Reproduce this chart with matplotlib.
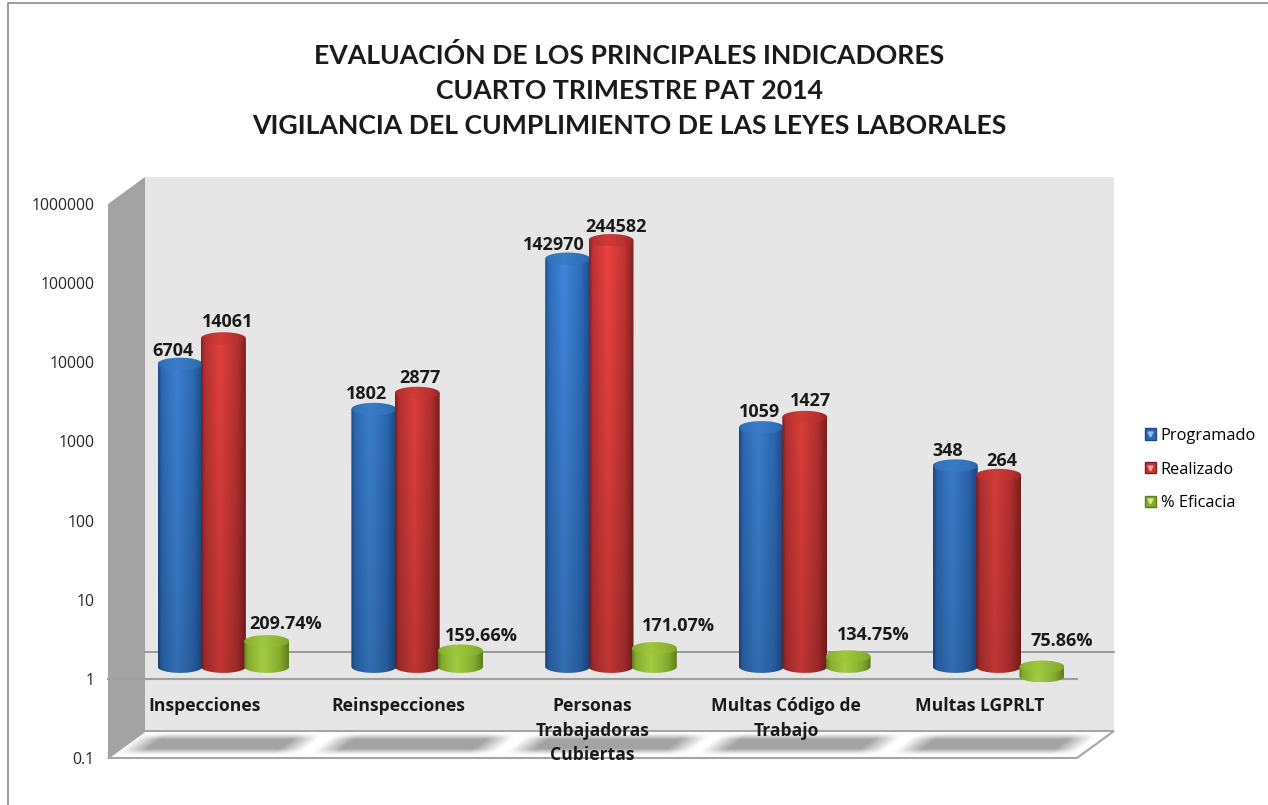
import matplotlib
matplotlib.use("Agg")
import matplotlib.pyplot as plt
import numpy as np
from matplotlib.colors import LinearSegmentedColormap
from matplotlib.legend_handler import HandlerTuple
from matplotlib.lines import Line2D
from matplotlib.patches import Polygon, Patch, PathPatch
from matplotlib.path import Path

# datos
categorias = ["Inspecciones", "Reinspecciones", "Personas\nTrabajadoras\nCubiertas",
              "Multas Código de\nTrabajo", "Multas LGPRLT"]
programado = [6704, 1802, 142970, 1059, 348]
realizado = [14061, 2877, 244582, 1427, 264]
eficacia = [2.0974, 1.5966, 1.7107, 1.3475, 0.7586]
eficacia_txt = ["209.74%", "159.66%", "171.07%", "134.75%", "75.86%"]
yticks = [0.1, 1, 10, 100, 1000, 10000, 100000, 1000000]
ytick_txt = ["0.1", "1", "10", "100", "1000", "10000", "100000", "1000000"]
titulo = ("EVALUACIÓN DE LOS PRINCIPALES INDICADORES\n"
          "CUARTO TRIMESTRE PAT 2014\n"
          "VIGILANCIA DEL CUMPLIMIENTO DE LAS LEYES LABORALES")

W, H = 1268, 805
fig = plt.figure(figsize=(W / 100, H / 100), dpi=100)

# capa en pixeles de la imagen (y hacia abajo)
bg = fig.add_axes([0, 0, 1, 1])
bg.set_xlim(0, W)
bg.set_ylim(H, 0)
bg.axis("off")

# plano frontal del grafico, con la escala log
ax = fig.add_axes([108 / W, 1 - 758 / H, 969 / W, 554 / H], zorder=2)
ax.set_yscale("log")
ax.set_xlim(0, 5)
ax.set_ylim(0.1, 1000000)
ax.patch.set_alpha(0)
for s in ax.spines.values():
    s.set_visible(False)
ax.set_xticks([])
ax.set_yticks(yticks)
ax.set_yticklabels(ytick_txt, fontfamily="Open Sans", fontsize=11.3, color="#262626")
ax.minorticks_off()
ax.tick_params(axis="y", length=0, pad=9.5)


def px(x, v):
    p = ax.transData.transform((x, v))
    return p[0], H - p[1]


# paredes
DX, DY = 37, 27
x0, y_bot = px(0, 0.1)
x1, y_top = px(5, 1000000)
bg.add_patch(Polygon([(x0, y_top), (x0 + DX, y_top - DY), (x0 + DX, y_bot - DY), (x0, y_bot)],
                     fc="#a3a3a3", ec="none", zorder=1))
bg.add_patch(Polygon([(x0 + DX, y_top - DY), (x1 + DX, y_top - DY), (x1 + DX, y_bot - DY), (x0 + DX, y_bot - DY)],
                     fc="#e6e6e6", ec="none", zorder=1))
bg.add_patch(Polygon([(x0, y_bot), (x1, y_bot), (x1 + DX, y_bot - DY), (x0 + DX, y_bot - DY)],
                     fc="white", ec="#a6a6a6", lw=1.5, zorder=1.5))

# lineas en el valor 1
_, y1 = px(0, 1)
bg.plot([x0 + DX, x1 + DX], [y1 - DY, y1 - DY], color="#8c8c8c", lw=1.2, zorder=2)
bg.plot([x0, x1], [y1, y1], color="#9e9e9e", lw=1.5, zorder=2)

# sombras en el piso
for i in range(5):
    cx = px(i + 0.5, 1)[0]
    ny, nx = 30, 240
    yy = np.linspace(0, 1, ny)[:, None]
    xx = np.linspace(-120, 120, nx)[None, :]
    shift = (0.5 - yy) * 28
    a = np.clip((92 - np.abs(xx - shift)) / 26, 0, 1) * np.clip(np.minimum(yy, 1 - yy) / 0.28, 0, 1)
    rgba = np.zeros((ny, nx, 4))
    rgba[..., :3] = 0.64
    rgba[..., 3] = a
    bg.imshow(rgba, extent=(cx + 15 - 120, cx + 15 + 120, y_bot - 3, y_bot - 25),
              aspect="auto", zorder=2.2, interpolation="bilinear")


def cmap_cil(oscuro, claro, medio):
    return LinearSegmentedColormap.from_list("c", [(0, oscuro), (0.08, medio), (0.42, claro), (0.8, medio), (1, oscuro)])


def cilindro(x, v, cuerpo, tapa, z, sombra=True):
    # base y tope en el plano medio de la profundidad; el log parte desde 1
    cx, ya = px(x, max(v, 1))
    _, yb = px(x, min(v, 1))
    ya -= DY * 0.45
    yb -= DY * 0.45
    rx, ry = 22.5, 6.2
    t = np.linspace(0, np.pi, 40)
    verts = list(zip(cx + rx * np.cos(t), yb + ry * np.sin(t))) + [(cx - rx, ya), (cx + rx, ya)]
    grad = np.linspace(0, 1, 100)
    ys = np.linspace(ya, yb + ry, 80)
    rgb = np.repeat(cuerpo(grad)[None, :, :3], len(ys), axis=0)
    if sombra:
        # mas oscuro hacia la base
        rgb = rgb * np.clip(1.06 - 0.2 * (ys - 240) / 430, 0.84, 1.06)[:, None, None]
    im = bg.imshow(np.clip(rgb, 0, 1), extent=(cx - rx, cx + rx, yb + ry, ya), aspect="auto", zorder=z)
    im.set_clip_path(PathPatch(Path(verts + [verts[0]]), transform=bg.transData))
    t2 = np.linspace(0, 2 * np.pi, 60)
    verts2 = list(zip(cx + rx * np.cos(t2), ya + ry * np.sin(t2)))
    im2 = bg.imshow(grad[None, :], cmap=tapa, extent=(cx - rx, cx + rx, ya + ry, ya - ry), aspect="auto", zorder=z + 0.01)
    im2.set_clip_path(PathPatch(Path(verts2), transform=bg.transData))


azul = cmap_cil("#1c4a85", "#3c80d0", "#2c68b2")
azul_t = cmap_cil("#2a64aa", "#3a7cc8", "#3272bd")
rojo = cmap_cil("#7f1f1f", "#de3f3d", "#b43030")
rojo_t = cmap_cil("#9a2626", "#cf3b39", "#b83130")
verde = cmap_cil("#5f7f1c", "#a4cc44", "#85ab2e")
verde_t = cmap_cil("#7fa52a", "#a0c83e", "#8cb432")

sep = 0.2235
mid = DX * 0.5 / 193.8
for i in range(5):
    cilindro(i + 0.5 + mid - sep, programado[i], azul, azul_t, 3)
    cilindro(i + 0.5 + mid, realizado[i], rojo, rojo_t, 4)
    cilindro(i + 0.5 + mid + sep, eficacia[i], verde, verde_t, 5, sombra=False)

# etiquetas de valores
lab = dict(fontfamily="Open Sans", fontweight="bold", fontsize=13, color="#1a1a1a",
           ha="center", va="center", zorder=8)
prog_dx = [-7, -7, -14, -2, -8]
prog_dy = [-25, -27, -26, -27, -27]
real_dx = [4, 3, 5, 6, 3]
real_dy = [-28, -27, -25, -28, -26]
efic_dx = [19, 21, 24, 25, 20]
efic_dy = [-29, -27, -34, -33, -38]
for i in range(5):
    for j, (v, txt, dx, dy) in enumerate([(programado[i], str(programado[i]), prog_dx[i], prog_dy[i]),
                                          (realizado[i], str(realizado[i]), real_dx[i], real_dy[i]),
                                          (eficacia[i], eficacia_txt[i], efic_dx[i], efic_dy[i])]):
        cx, cy = px(i + 0.5 + mid + (j - 1) * sep, max(v, 1))
        bg.text(cx + dx, cy - DY * 0.45 + dy + 12, txt, **lab)

# categorias
for i, c in enumerate(categorias):
    cx = px(i + 0.5, 1)[0]
    bg.text(cx, y1 + 18.5, c, fontfamily="Open Sans", fontweight="bold", fontsize=12.6, color="#1a1a1a",
            ha="center", va="top", linespacing=1.46, zorder=8)

# leyenda
h = [(Patch(fc="#2c66ad", ec="#1c4a85"), Line2D([], [], ls="", marker="v", ms=3.5, color="#8fbdf0")),
     (Patch(fc="#c43534", ec="#7f1f1f"), Line2D([], [], ls="", marker="v", ms=3.5, color="#f0a0a0")),
     (Patch(fc="#85ab2e", ec="#5f7f1c"), Line2D([], [], ls="", marker="v", ms=3.5, color="#d4ec8c"))]
fig.legend(h, ["Programado", "Realizado", "% Eficacia"], loc="center left",
           bbox_to_anchor=(1130 / W, 1 - 469.5 / H), frameon=False,
           handler_map={tuple: HandlerTuple(ndivide=1, pad=0)},
           handlelength=0.68, handleheight=0.7, handletextpad=0.3, labelspacing=1.08,
           prop={"family": "Open Sans", "size": 11.8})

# titulo
bg.text(629.5, 90.5, titulo, fontfamily="Lato", fontweight="bold", fontsize=19.15, color="#1a1a1a",
        ha="center", va="center", linespacing=1.53, zorder=8)

# marco
bg.plot([8, 8, W], [H, 3.5, 3.5], color="#8c8c8c", lw=1.2, zorder=1)
bg.set_xlim(0, W)
bg.set_ylim(H, 0)

fig.savefig("out.png", dpi=100)
